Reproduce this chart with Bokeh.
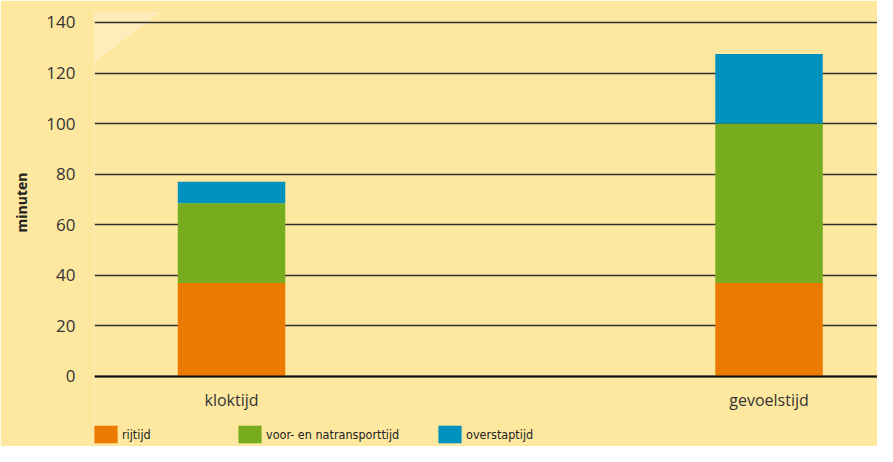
from bokeh.plotting import figure
from bokeh.models import (ColumnDataSource, Range1d, FixedTicker, Legend, LegendItem,
                          PolyAnnotation, Title)
from bokeh.embed import file_html
from bokeh.resources import INLINE

# ---- data ----
categories = ["kloktijd", "gevoelstijd"]
rijtijd = [37, 37]
voor_natransporttijd = [31.5, 63]
overstaptijd = [8.5, 27.5]
series_names = ["rijtijd", "voor- en natransporttijd", "overstaptijd"]
series_colors = ["#EA7A00", "#78AC1F", "#0092BF"]
y_ticks = [0, 20, 40, 60, 80, 100, 120, 140]
y_label = "minuten"

xpos = list(range(len(categories)))
source = ColumnDataSource(dict(x=xpos, rijtijd=rijtijd,
                               voor=voor_natransporttijd, over=overstaptijd))

BG = "#FEE8A0"
LIGHT = "#FEEDBA"

p = figure(width=877, height=446, output_backend="svg", toolbar_location=None,
           x_range=Range1d(-0.2549, 1.2018), y_range=Range1d(-27.68, 143.93),
           min_border_left=94, min_border_right=0, min_border_top=12,
           min_border_bottom=0)
p.background_fill_color = BG
p.border_fill_color = BG
p.outline_line_color = None

# decorative lighter corner (screen units)
p.add_layout(PolyAnnotation(
    xs=[-2, 6, 39, 66, 70, -2],
    ys=[384, 389, 414, 434, 440, 440],
    xs_units="screen", ys_units="screen",
    fill_color=LIGHT, fill_alpha=1.0, line_alpha=0, level="image"))

renderers = p.vbar_stack(["rijtijd", "voor", "over"], x="x", width=0.2,
                         source=source, color=series_colors, line_width=0)

# axes
p.xaxis.fixed_location = 0
p.xaxis.ticker = FixedTicker(ticks=xpos)
p.xaxis.major_label_overrides = {i: c for i, c in zip(xpos, categories)}
p.xaxis.major_tick_line_color = None
p.xaxis.major_tick_out = 0
p.xaxis.minor_tick_line_color = None
p.xaxis.axis_line_color = "#111111"
p.xaxis.axis_line_width = 2.2
p.xaxis.major_label_standoff = 13
p.xaxis.major_label_text_font = "Open Sans"
p.xaxis.major_label_text_font_size = "16px"
p.xaxis.major_label_text_color = "#333333"

p.yaxis.ticker = FixedTicker(ticks=y_ticks)
p.yaxis.major_tick_line_color = None
p.yaxis.major_tick_out = 0
p.yaxis.minor_tick_line_color = None
p.yaxis.axis_line_color = None
p.yaxis.major_label_standoff = 19
p.yaxis.major_label_text_font = "Open Sans"
p.yaxis.major_label_text_font_size = "17px"
p.yaxis.major_label_text_color = "#333333"

# y-axis caption as a side title (lets it sit higher than the frame centre)
p.add_layout(Title(text=y_label, align="left", offset=214,
                   vertical_align="top", standoff=22,
                   text_font="Open Sans", text_font_style="bold",
                   text_font_size="14px", text_color="#222222"), "left")

p.xgrid.grid_line_color = None
p.ygrid.grid_line_color = "#2e2e2e"
p.ygrid.grid_line_width = 1.3

# legends (three, placed inside the lower part of the frame)
offsets = [-3, 141, 341]
for r, name, dx in zip(renderers, series_names, offsets):
    lg = Legend(items=[LegendItem(label=name, renderers=[r])],
                location=(dx, 1), orientation="horizontal",
                padding=0, margin=0, spacing=0,
                glyph_width=29, glyph_height=22, label_height=22,
                label_standoff=2,
                label_text_font="DejaVu Sans Condensed",
                label_text_font_size="12.5px", label_text_color="#222222",
                border_line_alpha=0, background_fill_alpha=0)
    p.add_layout(lg, "center")

open("out.html", "w").write(file_html(p, INLINE))
